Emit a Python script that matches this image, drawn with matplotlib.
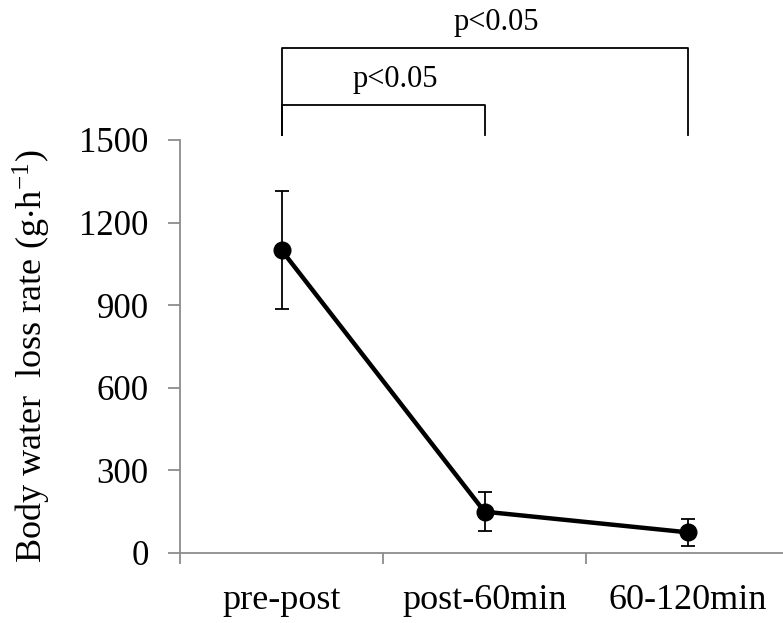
import matplotlib

matplotlib.use("Agg")
import matplotlib.pyplot as plt  # noqa: E402

categories = ["pre-post", "post-60min", "60-120min"]
means = [1100, 150, 75]
errors = [215, 72, 50]
y_ticks = [0, 300, 600, 900, 1200, 1500]
# significance brackets: (left index, right index, bracket height, label)
brackets = [(0, 1, 1627, "p<0.05"), (0, 2, 1834, "p<0.05")]

plt.rcParams["font.family"] = ["Liberation Serif", "DejaVu Serif"]
plt.rcParams["mathtext.fontset"] = "stix"

fig = plt.figure(figsize=(7.83, 6.23), dpi=100)
ax = fig.add_axes([0.2299, 0.1124, 0.7778, 0.663])

xs = list(range(len(categories)))
ax.errorbar(xs, means, yerr=errors, fmt="none", ecolor="black",
            elinewidth=1.3, capsize=4.8, capthick=1.3, zorder=2)
ax.plot(xs, means, color="black", lw=3.2, marker="o", markersize=12,
        zorder=3)

ax.set_xlim(-0.5, 2.5)
ax.set_ylim(0, 1500)
ax.set_yticks(y_ticks)
ax.set_yticklabels([str(v) for v in y_ticks])

# category boundaries as major ticks, labels on minor ticks at centers
ax.set_xticks([-0.5, 0.5, 1.5, 2.5])
ax.set_xticklabels([])
ax.set_xticks(xs, minor=True)
ax.set_xticklabels(categories, minor=True)
ax.tick_params(axis="x", which="minor", length=0, pad=22, labelsize=26)
ax.tick_params(axis="x", which="major", length=8, width=1.3,
               color="#8c8c8c", direction="out")
ax.tick_params(axis="y", length=8.5, width=1.3, color="#8c8c8c",
               direction="out", pad=14, labelsize=25)

for side in ("top", "right"):
    ax.spines[side].set_visible(False)
for side in ("left", "bottom"):
    ax.spines[side].set_color("#8c8c8c")
    ax.spines[side].set_linewidth(1.3)

ax.set_ylabel("Body water  loss rate (g$\\cdot$h$^{\\mathregular{-1}}$)",
              fontsize=26)
ax.yaxis.set_label_coords(-0.21, 0.477)

for i, j, h, label in brackets:
    ax.plot([i, i, j, j], [1518, h, h, 1518], color="black", lw=1.3,
            clip_on=False)
    ax.text((i + j) / 2 + 0.06, h + 40, label, ha="center", va="bottom",
            fontsize=22)

fig.savefig("out.png", dpi=100)
